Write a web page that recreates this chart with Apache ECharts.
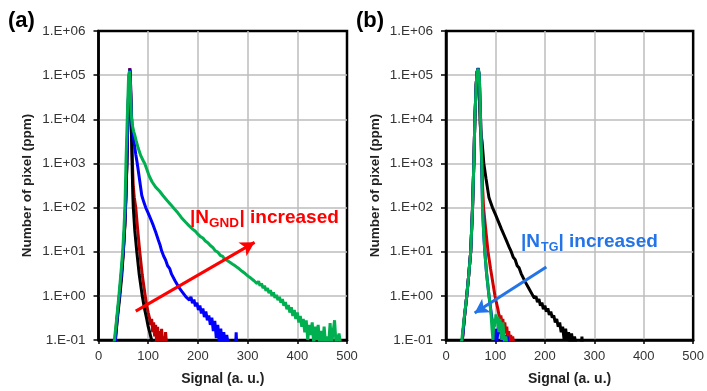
<!DOCTYPE html>
<html><head><meta charset="utf-8">
<script src="https://cdn.jsdelivr.net/npm/echarts@6/dist/echarts.min.js"></script>
<style>html,body{margin:0;padding:0;background:#fff}#c{width:707px;height:391px}</style>
</head><body><div id="c"></div>
<script>
const xTickLabels = ['0','100','200','300','400','500'];
const yTickLabels = ['1.E-01','1.E+00','1.E+01','1.E+02','1.E+03','1.E+04','1.E+05','1.E+06'];
const panelLabels = ['(a)','(b)'];
const xTitle = 'Signal (a. u.)';
const yTitle = 'Number of pixel (ppm)';

// Panel (a)
const aBlack = [[30,0.06],[34,0.1],[38,0.3],[43,1],[47,3],[50,10],[53,40],[55,150],[57,900],[59,9000],[61,60000],[63,130000],[64,80000],[65,25000],[66,7000],[67,2000],[68,600],[69,200],[70,100],[73,30],[77,10],[82,3],[88,1],[92,0.55],[97,0.3],[100,0.2],[103,0.15],[105,0.12],[107,0.1],[109,0.08]];
const aRed = [[29,0.06],[33,0.1],[37,0.3],[42,1],[46,3],[50,10],[53,40],[55,150],[57,900],[59,9000],[61,60000],[63,145000],[64,90000],[65,40000],[66,20000],[67,5000],[68,1500],[69,600],[70,300],[72,170],[75,100],[79,30],[83,10],[88,3],[94,1.0],[97,0.6],[100,0.42],[103,0.3],[105,0.22],[107,0.3],[109,0.15],[111,0.25],[113,0.12],[115,0.22],[117,0.09],[119,0.2],[121,0.08],[123,0.16],[125,0.08],[127,0.18],[129,0.08],[131,0.12],[133,0.08],[135,0.15],[137,0.08]];
const aBlue = [[31,0.06],[34,0.1],[38,0.35],[42,1],[46,3.2],[50,11],[53,45],[55,180],[57,1000],[59,10000],[61,70000],[63,140000],[64,110000],[65,40000],[66,15000],[68,6000],[72,2800],[75,1600],[78,1000],[82,480],[87,190],[91,135],[95,100],[100,75],[105,55],[110,40],[115,28],[120,19],[124,14],[127,10.5],[131,8],[135,6.5],[139,4.8],[143,4.2],[147,3.1],[150,2.9],[154,2.2],[157,2.1],[161,1.6],[165,1.55],[168,1.25],[172,1.2],[176,0.95],[180,0.98],[183,0.8],[186,0.95],[189,0.68],[192,0.82],[195,0.58],[198,0.7],[201,0.48],[204,0.6],[207,0.4],[210,0.52],[213,0.33],[216,0.44],[219,0.28],[222,0.36],[225,0.22],[228,0.32],[231,0.16],[234,0.27],[237,0.11],[240,0.22],[243,0.09],[246,0.18],[249,0.08],[252,0.15],[255,0.08],[258,0.13],[261,0.08],[276,0.08],[277,0.15],[278,0.08]];
const aGreen = [[28,0.05],[32,0.1],[36.5,0.3],[41,1],[45,3.2],[48.6,10],[51,30],[53.2,100],[55.2,1000],[57.8,10000],[60.6,100000],[62.5,125000],[64,70000],[65,25000],[66,12000],[68,7500],[71,5200],[73,4400],[76,3200],[80,2200],[85,1500],[90,1150],[93,1000],[97,750],[102,520],[108,380],[115,290],[123,234],[130,185],[138,145],[145,118],[152,95],[160,75],[167,59],[175,47],[182,39],[190,32],[195,29],[200,25],[205,22],[210,20.5],[215,17.5],[220,16],[225,13.8],[230,12.5],[235,10.5],[240,9.8],[245,8.3],[250,7.8],[253,7.0],[256,7.3],[259,6.3],[262,6.6],[265,5.7],[268,6.0],[271,5.1],[274,5.4],[277,4.6],[280,4.9],[283,4.1],[286,4.4],[289,3.6],[292,3.9],[295,3.2],[298,3.4],[301,2.8],[304,3.0],[307,2.5],[310,2.7],[313,2.2],[316,2.4],[319,1.9],[322,2.15],[325,1.7],[328,1.9],[331,1.5],[334,1.7],[337,1.3],[340,1.5],[343,1.15],[346,1.35],[349,1.0],[352,1.2],[355,0.9],[358,1.05],[361,0.8],[364,0.95],[367,0.7],[370,0.85],[373,0.6],[376,0.72],[379,0.5],[382,0.62],[385,0.42],[388,0.55],[391,0.35],[394,0.48],[397,0.3],[400,0.42],[403,0.25],[406,0.35],[409,0.2],[412,0.3],[415,0.15],[418,0.28],[421,0.1],[424,0.22],[427,0.13],[430,0.25],[433,0.08],[436,0.2],[439,0.1],[442,0.22],[445,0.08],[448,0.16],[451,0.08],[454,0.2],[457,0.08],[460,0.12],[463,0.08],[466,0.24],[469,0.08],[472,0.08],[475,0.28],[478,0.08],[481,0.08],[484,0.14],[487,0.08]];

// Panel (b)
const bBlack = [[30,0.06],[33,0.1],[37,0.3],[42,1],[46,3],[50,10],[53.7,100],[56.3,1000],[58.4,10000],[61,60000],[63,120000],[65,140000],[66,110000],[67,50000],[68,20000],[69,8000],[71,4500],[73,3100],[76.5,1000],[81,450],[87,166],[94,100],[100,70],[106,48],[112,33],[118,23],[124,16],[128,12.5],[132,10],[136,7.5],[140,6.6],[144,4.8],[148,4.3],[152,3.2],[156,2.9],[160,2.1],[164,1.95],[168,1.45],[172,1.35],[176,1.0],[179,0.88],[182,0.98],[185,0.72],[188,0.85],[191,0.6],[194,0.7],[197,0.5],[200,0.6],[203,0.44],[206,0.52],[209,0.37],[212,0.44],[215,0.32],[218,0.36],[221,0.25],[224,0.3],[227,0.2],[230,0.25],[233,0.15],[236,0.2],[239,0.1],[242,0.18],[245,0.1],[248,0.15],[251,0.08],[254,0.14],[257,0.08],[260,0.12],[263,0.08],[274,0.08],[275,0.12],[276,0.08]];
const bRed = [[30,0.06],[33,0.1],[37,0.3],[42,1],[46,3],[50,10],[53.7,100],[56.3,1000],[58.4,10000],[61,60000],[63,120000],[65,140000],[67,100000],[68,50000],[70,10000],[72,1500],[74,300],[76,100],[80,35],[85,10],[90,4.2],[95,1.9],[99,1.0],[102,0.7],[105,0.5],[107,0.38],[109,0.3],[111,0.36],[113,0.24],[115,0.3],[117,0.18],[119,0.25],[121,0.14],[123,0.2],[125,0.1],[127,0.16],[129,0.08],[131,0.13],[133,0.08],[135,0.12],[137,0.08]];
const bBlue = [[30,0.06],[33,0.1],[37,0.3],[42,1],[46,3],[50,10],[53.7,100],[56.3,1000],[58.4,10000],[61,60000],[63,120000],[65,145000],[67,110000],[68,60000],[70,10000],[72,1000],[74,100],[76,30],[78.5,10],[82,3.3],[87,1],[90,0.55],[93,0.3],[96,0.15],[98,0.1],[100,0.18],[102,0.08],[104,0.12],[106,0.2],[108,0.14],[110,0.25],[112,0.1],[114,0.18],[116,0.08],[119,0.13],[121,0.08],[124,0.12],[126,0.08]];
const bGreen = [[28,0.06],[32,0.1],[36.5,0.3],[42,1],[46,3],[50,10],[53.7,100],[56.3,1000],[58.4,10000],[61,60000],[63,120000],[65,140000],[67,110000],[68,60000],[69.8,10000],[72.4,1000],[73.8,100],[76,30],[78.5,10],[82,3.3],[87,1],[89,0.65],[91,0.4],[93,0.18],[95,0.1],[97,0.3],[99,0.2],[101,0.38],[103,0.24],[105,0.34],[107,0.15],[109,0.3],[111,0.2],[113,0.1],[115,0.25],[117,0.14],[119,0.08],[121,0.12],[123,0.08]];

// Annotation arrows (data coordinates: signal, ppm)
const arrowA = [[75,0.45],[314,16.3]];
const arrowB = [[203,4.5],[58,0.41]];

const FONT = 'Liberation Sans, Arial, Helvetica, sans-serif';
const C = {black:'#000000', red:'#c00000', blue:'#0000ff', green:'#00b050'};

function xAxisCfg(gi){
  return {
    gridIndex: gi, type:'value', min:0, max:500, interval:100,
    name: xTitle, nameLocation:'middle', nameGap:32,
    nameTextStyle:{fontFamily:FONT, fontWeight:'bold', fontSize:14, color:'#222'},
    axisLine:{show:true, lineStyle:{color:'#000', width:2.5}},
    axisTick:{show:true, length:4, lineStyle:{color:'#000', width:1.5}},
    axisLabel:{margin:10, fontFamily:FONT, fontSize:13, color:'#333',
      formatter:(v)=>xTickLabels[Math.round(v/100)]},
    splitLine:{show:true, showMinLine:false, showMaxLine:false, lineStyle:{color:'#bdbdbd', width:1.5}}
  };
}
function yAxisCfg(gi){
  return {
    gridIndex: gi, type:'log', logBase:10, min:0.1, max:1e6, splitNumber:7,
    name: yTitle, nameLocation:'middle', nameGap:64, nameRotate:90,
    nameTextStyle:{fontFamily:FONT, fontWeight:'bold', fontSize:13.5, color:'#222'},
    axisLine:{show:true, lineStyle:{color:'#000', width:2.5}},
    axisTick:{show:true, length:5, lineStyle:{color:'#000', width:1.5}},
    minorTick:{show:false},
    axisLabel:{margin:13, fontFamily:FONT, fontSize:13.5, color:'#333',
      formatter:(v)=>yTickLabels[Math.round(Math.log10(v))+1]},
    splitLine:{show:true, showMinLine:false, showMaxLine:false, lineStyle:{color:'#bdbdbd', width:1.5}}
  };
}
function lineSeries(gi, data, color, extra){
  return Object.assign({
    type:'line', xAxisIndex:gi, yAxisIndex:gi, data:data,
    showSymbol:false, symbol:'none', clip:true, smooth:false,
    lineStyle:{color:color, width:3}, itemStyle:{color:color},
    emphasis:{disabled:true}, silent:true, z:3
  }, extra||{});
}
function arrowMark(pts, color){
  return {markLine:{
    silent:true, symbol:['none','arrow'], symbolSize:[12,14],
    label:{show:false}, emphasis:{disabled:true},
    lineStyle:{color:color, width:3, type:'solid'},
    data:[[{coord:pts[0]},{coord:pts[1]}]]
  }};
}

const chart = echarts.init(document.getElementById('c'), null, {renderer:'canvas'});
chart.setOption({
  animation:false,
  backgroundColor:'#ffffff',
  grid:[
    {left:98.5, top:31, width:248.5, height:312, show:true, borderColor:'#000', borderWidth:2.5, backgroundColor:'transparent'},
    {left:446, top:31, width:249, height:312, show:true, borderColor:'#000', borderWidth:2.5, backgroundColor:'transparent'}
  ],
  xAxis:[xAxisCfg(0), xAxisCfg(1)],
  yAxis:[yAxisCfg(0), yAxisCfg(1)],
  series:[
    lineSeries(0, aRed, C.red),
    lineSeries(0, aBlack, C.black),
    lineSeries(0, aBlue, C.blue),
    lineSeries(0, aGreen, C.green, arrowMark(arrowA, '#ff0000')),
    lineSeries(1, bBlack, C.black),
    lineSeries(1, bRed, '#d00000'),
    lineSeries(1, bBlue, C.blue),
    lineSeries(1, bGreen, C.green, arrowMark(arrowB, '#2274e8'))
  ],
  graphic:[
    {type:'text', x:8, y:21, style:{text:panelLabels[0], font:'bold 22px '+FONT, fill:'#000', verticalAlign:'middle'}},
    {type:'text', x:356, y:21, style:{text:panelLabels[1], font:'bold 22px '+FONT, fill:'#000', verticalAlign:'middle'}},
    {type:'text', x:190, y:218, z:10, style:{text:'|N', font:'bold 19px '+FONT, fill:'#ff0000', verticalAlign:'middle'}},
    {type:'text', x:209, y:223.5, z:10, style:{text:'GND', font:'bold 13.5px '+FONT, fill:'#ff0000', verticalAlign:'middle'}},
    {type:'text', x:239.5, y:218, z:10, style:{text:'| increased', font:'bold 19px '+FONT, fill:'#ff0000', verticalAlign:'middle'}},
    {type:'text', x:521, y:241.5, z:10, style:{text:'|N', font:'bold 19px '+FONT, fill:'#2274e8', verticalAlign:'middle'}},
    {type:'text', x:541, y:247.5, z:10, style:{text:'TG', font:'bold 12.5px '+FONT, fill:'#2274e8', verticalAlign:'middle'}},
    {type:'text', x:558.5, y:241.5, z:10, style:{text:'| increased', font:'bold 19px '+FONT, fill:'#2274e8', verticalAlign:'middle'}}
  ]
});
</script>
</body></html>
